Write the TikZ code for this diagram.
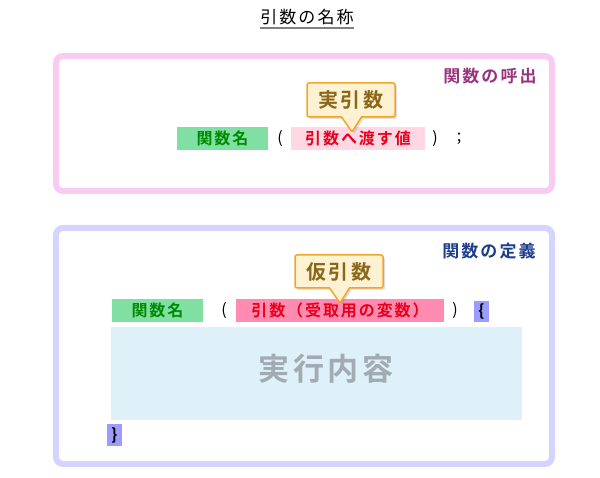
\documentclass[tikz,border=0pt]{standalone}
\usepackage{fontspec}
\setmainfont{Noto Sans CJK JP}[LetterSpace=12, BoldFont={Noto Sans CJK JP Bold}]
\usetikzlibrary{shapes.callouts,shadows}
\definecolor{framepink}{HTML}{F8CCF0}
\definecolor{framelav}{HTML}{D4D4FF}
\definecolor{boxgreen}{HTML}{80E0A4}
\definecolor{txtgreen}{HTML}{008A00}
\definecolor{boxpinkl}{HTML}{FFD8E4}
\definecolor{boxpinkd}{HTML}{FF8CB0}
\definecolor{txtred}{HTML}{E8001C}
\definecolor{bracebox}{HTML}{9C9CFF}
\definecolor{bodyblue}{HTML}{DEF0F8}
\definecolor{bodygray}{HTML}{A2AAB2}
\definecolor{calfill}{HTML}{FFF2D2}
\definecolor{caldraw}{HTML}{F2A628}
\definecolor{caltxt}{HTML}{8A6618}
\definecolor{lblpurple}{HTML}{993380}
\definecolor{lblblue}{HTML}{1C3C8C}
\tikzset{
  frame/.style={draw, line width=6pt, rounded corners=7pt, inner sep=0pt},
  chip/.style={inner sep=0pt, font=\fontsize{16}{16}\selectfont\bfseries},
  sym/.style={inner sep=0pt, font=\fontsize{16}{16}\selectfont},
  brace/.style={inner sep=0pt, font=\fontsize{16}{16}\selectfont\bfseries, fill=bracebox, minimum width=15pt},
  lbl/.style={inner sep=0pt, font=\fontsize{17}{17}\selectfont\bfseries},
  callbox/.style={rectangle callout, draw=caldraw, line width=1.5pt, fill=calfill,
    rounded corners=2pt, inner sep=0pt, callout pointer width=20pt,
    text=caltxt, font=\fontsize{20}{20}\selectfont\bfseries,
    drop shadow={opacity=0.25, shadow xshift=2pt, shadow yshift=-2pt}}
}
\begin{document}
\begin{tikzpicture}[x=1pt,y=-1pt]
\useasboundingbox (0,0) rectangle (600,478);
% title
\node[inner sep=0pt, font=\fontsize{17}{17}\selectfont] (title) at (307,17) {引数の名称};
\draw[gray, line width=2pt] ([yshift=-3pt]title.south west) -- ([yshift=-3pt]title.south east);
% call frame
\node[frame, draw=framepink, minimum width=496pt, minimum height=135pt] (callframe) at (304,123.5) {};
\node[lbl, text=lblpurple] (calllbl) at (490,76) {関数の呼出};
\node[chip, fill=boxgreen, text=txtgreen, minimum width=91pt, minimum height=23pt] (cname) at (222.5,138.5) {関数名};
\node[sym] (copen) at (280,138.5) {(};
\node[chip, fill=boxpinkl, text=txtred, minimum width=134pt, minimum height=23pt] (carg) at (358,138.5) {引数へ渡す値};
\node[sym] (cclose) at (435,138.5) {)};
\node[sym] (csemi) at (459,138.5) {;};
\node[callbox, minimum width=88pt, minimum height=34pt, callout absolute pointer={(352,132)}] (actual) at (351,100) {実引数};
% definition frame
\node[frame, draw=framelav, minimum width=496pt, minimum height=236pt] (defframe) at (304,346) {};
\node[lbl, text=lblblue] (deflbl) at (489,251) {関数の定義};
\node[chip, fill=boxgreen, text=txtgreen, minimum width=91pt, minimum height=23pt] (dname) at (157.5,310.5) {関数名};
\node[sym] (dopen) at (224,310.5) {(};
\node[chip, fill=boxpinkd, text=txtred, minimum width=208pt, minimum height=23pt] (darg) at (340,310.5) {引数（受取用の変数）};
\node[sym] (dclose) at (455,310.5) {)};
\node[brace, minimum height=21pt] (dlbrace) at (481.5,311.5) {\{};
\node[fill=bodyblue, minimum width=411pt, minimum height=93pt, inner sep=0pt] (body) at (316.5,373.5) {};
\node[inner sep=0pt, text=bodygray, font=\fontsize{31}{31}\selectfont\bfseries] (bodytxt) at (326,369) {実行内容};
\node[brace, minimum height=22pt] (drbrace) at (114.5,435) {\}};
\node[callbox, minimum width=88pt, minimum height=33pt, callout absolute pointer={(340,303)}] (formal) at (339,271.5) {仮引数};
\end{tikzpicture}
\end{document}
